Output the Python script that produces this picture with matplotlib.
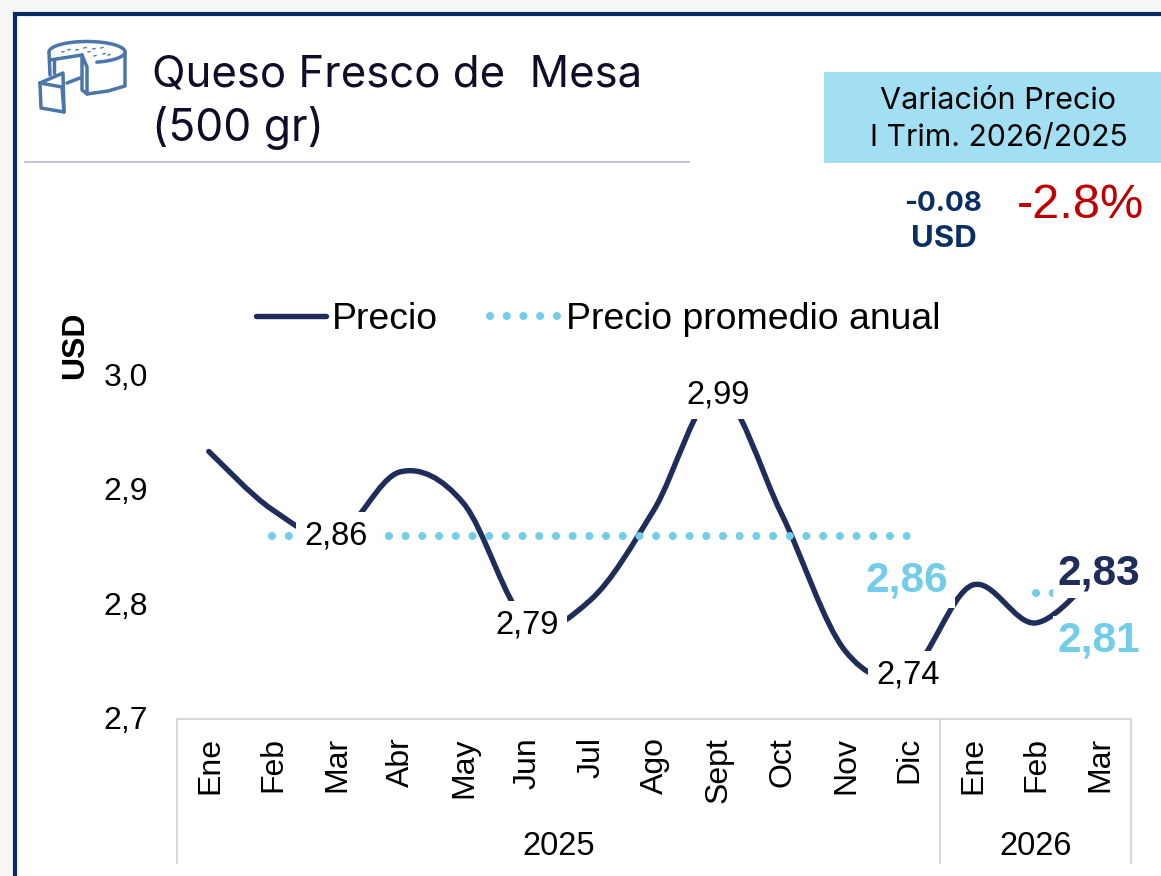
import matplotlib
matplotlib.use("Agg")
import matplotlib.pyplot as plt
from matplotlib.path import Path
from matplotlib.patches import PathPatch, Rectangle
from matplotlib.transforms import ScaledTranslation
import numpy as np

W, H = 1161, 876
months = ["Ene","Feb","Mar","Abr","May","Jun","Jul","Ago","Sept","Oct","Nov","Dic","Ene","Feb","Mar"]
price = [2.934,2.883,2.86,2.916,2.889,2.785,2.804,2.883,2.985,2.88,2.76,2.74,2.817,2.784,2.83]
avg_2025 = [None,2.86,2.86,2.86,2.86,2.86,2.86,2.86,2.86,2.86,2.86,2.86,None,None,None]
avg_2026 = [None]*13 + [2.81,2.81]
yticks = [2.7,2.8,2.9,3.0]
ytick_labels = ["2,7","2,8","2,9","3,0"]
years = ["2025","2026"]
price_labels = {2:"2,86",5:"2,79",8:"2,99",11:"2,74"}
label_drop_pt = {2:0,5:-2.5,8:-1.5,11:-1.5}

NAVY = "#1f2d5a"; SKY = "#72cde9"; FRAME = "#0a2a66"
ARIAL = "Liberation Sans"

fig = plt.figure(figsize=(W/100, H/100), dpi=100, facecolor="white")

# page overlay in pixel coordinates
bg = fig.add_axes([0,0,1,1], zorder=0)
bg.set_xlim(0,W); bg.set_ylim(H,0); bg.axis("off")
bg.add_patch(Rectangle((0,0),W,H,fc="#f6f6f6",ec="none"))
bg.add_patch(Rectangle((15,14),W,H,fc="white",ec="none"))
bg.plot([14.5,14.5,W],[H,13.5,13.5],color=FRAME,lw=3,solid_joinstyle="miter")
bg.plot([25,689],[162,162],color="#b9bdd0",lw=1.3)
bg.add_patch(Rectangle((824,72),337,91,fc="#a3dff2",ec="none"))
bg.text(152,75,"Queso Fresco de  Mesa",family="Inter",fontsize=31.5,color="#120a26",va="center",ha="left")
bg.text(152,128,"(500 gr)",family="Inter",fontsize=32,color="#120a26",va="center",ha="left")
bg.text(998,101,"Variación Precio",family="Inter",fontsize=22,color="black",va="center",ha="center")
bg.text(999,138,"I Trim. 2026/2025",family="Inter",fontsize=21.7,color="black",va="center",ha="center")
bg.text(943,204,"-0.08",family="Inter",fontsize=20,fontweight="bold",color="#0b2f63",va="center",ha="center")
bg.text(944,239,"USD",family="Inter",fontsize=22.5,fontweight="bold",color="#0b2f63",va="center",ha="center")
bg.text(1080.5,206,"-2.8%",family=ARIAL,fontsize=35,color="#c00000",va="center",ha="center")
bg.text(75,345.5,"USD",family=ARIAL,fontsize=23,fontweight="bold",rotation=90,va="center",ha="center",color="black")

# cheese icon
IC = "#4a76a8"
def ic(pts, lw=2.5):
    a = np.array(pts)
    bg.plot(a[:,0],a[:,1],color=IC,lw=lw,solid_joinstyle="round",solid_capstyle="round")
arc_t = np.radians(np.linspace(75,-180,60))
ic(np.c_[87+38*np.cos(arc_t),52+10.5*np.sin(arc_t)])
ic([(125,52),(125,86),(108,91),(87,94)])
ic([(82,55),(82,90),(87,94),(87,67),(82,55)])
ic([(50,60),(82,55)]); ic([(49,52),(50,75)]); ic([(54,60),(54,73)])
ic([(67,83),(80,78)])
ic([(40,83),(63,73),(64,112),(41,108),(40,83)]); ic([(40,83),(62,87),(64,112)])
for dx,dy in [(62,52),(68,50),(76,50),(84,48),(93,49),(101,48),(103,54),(94,56),(108,55),(88,52)]:
    bg.plot([dx,dx+2],[dy,dy-.5],color=IC,lw=1)

# chart
L,R,T,B = 177,1131,376,719
ax = fig.add_axes([L/W,1-B/H,(R-L)/W,(B-T)/H], zorder=1)
ax.patch.set_alpha(0)
x = np.arange(len(price))
y = np.array(price)
ax.set_xlim(-0.5,14.5); ax.set_ylim(2.7,3.0)

# smoothed line: Catmull-Rom segments through the data
verts=[(x[0],y[0])]; codes=[Path.MOVETO]
for i in range(len(x)-1):
    p0=(x[max(i-1,0)],y[max(i-1,0)]); p1=(x[i],y[i]); p2=(x[i+1],y[i+1]); p3=(x[min(i+2,len(x)-1)],y[min(i+2,len(x)-1)])
    c1=(p1[0]+(p2[0]-p0[0])/6,p1[1]+(p2[1]-p0[1])/6)
    c2=(p2[0]-(p3[0]-p1[0])/6,p2[1]-(p3[1]-p1[1])/6)
    verts+= [c1,c2,p2]; codes+=[Path.CURVE4]*3
ax.add_patch(PathPatch(Path(verts,codes),fc="none",ec=NAVY,lw=3.9,capstyle="round",zorder=2))
h1, = ax.plot([],[],color=NAVY,lw=3.9,solid_capstyle="round",label="Precio")
DOT=5.8
dots=(0,(0.01,16.62*0.72/DOT))
h2, = ax.plot(x,[np.nan if v is None else v for v in avg_2025],color=SKY,lw=DOT,linestyle=dots,dash_capstyle="round",zorder=3,label="Precio promedio anual")
ax.plot(x,[np.nan if v is None else v for v in avg_2026],color=SKY,lw=DOT,linestyle=dots,dash_capstyle="round",zorder=3)

for i,s in price_labels.items():
    ax.annotate(s,(x[i],price[i]),xytext=(0,label_drop_pt[i]),textcoords="offset points",family=ARIAL,fontsize=23.5,
                ha="center",va="center",color="black",zorder=5,bbox=dict(fc="white",ec="none",pad=6))
ax.text(x[11]-0.03,2.821,"2,86",family=ARIAL,fontsize=30.5,fontweight="bold",color=SKY,ha="center",va="center",zorder=5,
        bbox=dict(fc="white",ec="none",pad=5.5))
ax.text(x[14]-0.01,2.827,"2,83",family=ARIAL,fontsize=30.5,fontweight="bold",color=NAVY,ha="center",va="center",zorder=5,
        bbox=dict(fc="white",ec="none",pad=3))
ax.text(x[14]-0.01,2.7685,"2,81",family=ARIAL,fontsize=30.5,fontweight="bold",color=SKY,ha="center",va="center",zorder=5,
        bbox=dict(fc="white",ec="none",pad=3))

for s in ["top","right","left"]:
    ax.spines[s].set_visible(False)
ax.spines["bottom"].set_color("#d9d9d9"); ax.spines["bottom"].set_linewidth(1.5)
ax.set_yticks(yticks); ax.set_yticklabels(ytick_labels,family=ARIAL,fontsize=23)
ax.set_xticks(x); ax.set_xticklabels(months,family=ARIAL,fontsize=23,rotation=90)
ax.tick_params(axis="y",length=0,pad=21)
ax.tick_params(axis="x",length=0,pad=13)
for lab in ax.get_yticklabels():
    lab.set_transform(lab.get_transform()+ScaledTranslation(0,1.5/100,fig.dpi_scale_trans))
for lab in ax.get_xticklabels():
    lab.set_transform(lab.get_transform()+ScaledTranslation(1.2/100,0,fig.dpi_scale_trans))
tr = ax.get_xaxis_transform()
for sx in [-0.5,11.5,14.5]:
    ax.plot([sx,sx],[0,-0.42],transform=tr,color="#d9d9d9",lw=1.5,clip_on=False)
ax.text(5.5,-0.372,years[0],transform=tr,family=ARIAL,fontsize=23.5,ha="center",va="center")
ax.text(13,-0.372,years[1],transform=tr,family=ARIAL,fontsize=23.5,ha="center",va="center")

fig.legend(handles=[h1,h2],loc="center",bbox_to_anchor=(598/W,1-319.5/H),ncol=2,frameon=False,
           prop=dict(family=ARIAL,size=26.9),handlelength=1.87,handletextpad=0.16,columnspacing=1.39,borderpad=0)

fig.savefig("out.png",dpi=100)
